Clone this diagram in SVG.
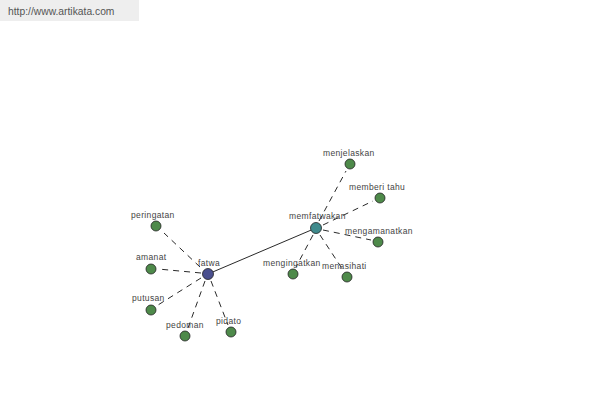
<svg xmlns="http://www.w3.org/2000/svg" width="600" height="400" viewBox="0 0 600 400">
<style>
.lbl{font-family:"Liberation Sans",Arial,sans-serif;font-size:8.5px;letter-spacing:0.35px;fill:#444}
.leaf{fill:#4e8a4a;stroke:#222;stroke-width:0.8}
.dash{stroke:#111;stroke-width:0.9;stroke-dasharray:6,5;fill:none}
</style>
<rect x="0" y="0" width="139" height="21" fill="#eeeeee"/>
<text x="8" y="15" style="font-family:'Liberation Sans',Arial,sans-serif;font-size:10.3px;fill:#555">http://www.artikata.com</text>
<g id="connectors">
<line x1="208" y1="274" x2="316" y2="228" stroke="#111" stroke-width="0.9"/>
<line class="dash" x1="200" y1="267" x2="164" y2="233"/>
<line class="dash" x1="201" y1="273" x2="158" y2="269"/>
<line class="dash" x1="201" y1="278" x2="158" y2="305"/>
<line class="dash" x1="205" y1="281" x2="188" y2="328"/>
<line class="dash" x1="211" y1="281" x2="228" y2="325"/>
<line class="dash" x1="319" y1="221" x2="346" y2="171"/>
<line class="dash" x1="323" y1="225" x2="373" y2="201"/>
<line class="dash" x1="323" y1="230" x2="371" y2="240"/>
<line class="dash" x1="313" y1="235" x2="296" y2="267"/>
<line class="dash" x1="320" y1="235" x2="343" y2="270"/>
</g>
<g id="n-fatwa"><circle cx="208" cy="274" r="5.5" fill="#4a4f8e" stroke="#222" stroke-width="0.8"/><text class="lbl" x="198" y="266">fatwa</text></g>
<g id="n-memfatwakan"><circle cx="316" cy="228" r="5.5" fill="#3f8a8c" stroke="#222" stroke-width="0.8"/><text class="lbl" x="289" y="219">memfatwakan</text></g>
<g id="n-peringatan"><circle class="leaf" cx="156" cy="226" r="5"/><text class="lbl" x="131" y="218">peringatan</text></g>
<g id="n-amanat"><circle class="leaf" cx="151" cy="269" r="5"/><text class="lbl" x="136" y="260">amanat</text></g>
<g id="n-putusan"><circle class="leaf" cx="151" cy="310" r="5"/><text class="lbl" x="132" y="301">putusan</text></g>
<g id="n-pedoman"><circle class="leaf" cx="185" cy="336" r="5"/><text class="lbl" x="166" y="328">pedoman</text></g>
<g id="n-pidato"><circle class="leaf" cx="231" cy="332" r="5"/><text class="lbl" x="216" y="324">pidato</text></g>
<g id="n-menjelaskan"><circle class="leaf" cx="350" cy="164" r="5"/><text class="lbl" x="323" y="156">menjelaskan</text></g>
<g id="n-memberitahu"><circle class="leaf" cx="380" cy="198" r="5"/><text class="lbl" x="349" y="190">memberi tahu</text></g>
<g id="n-mengamanatkan"><circle class="leaf" cx="378" cy="242" r="5"/><text class="lbl" x="345" y="234">mengamanatkan</text></g>
<g id="n-mengingatkan"><circle class="leaf" cx="293" cy="274" r="5"/><text class="lbl" x="263" y="266">mengingatkan</text></g>
<g id="n-menasihati"><circle class="leaf" cx="347" cy="277" r="5"/><text class="lbl" x="322" y="269">menasihati</text></g>
</svg>
